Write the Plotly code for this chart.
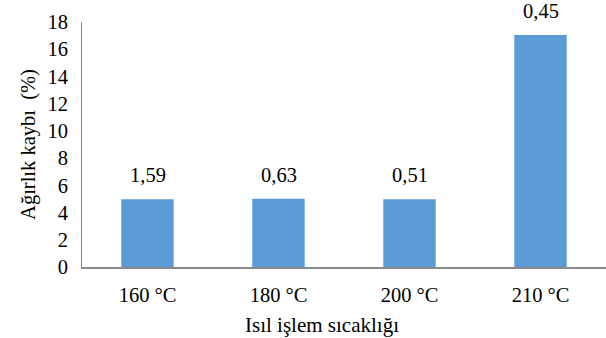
import plotly.graph_objects as go

categories = ["160 °C", "180 °C", "200 °C", "210 °C"]
values = [4.97, 5.02, 4.97, 17.05]
labels = ["1,59", "0,63", "0,51", "0,45"]
y_ticks = [0, 2, 4, 6, 8, 10, 12, 14, 16, 18]

font = "Liberation Serif"
fs = 20.5

fig = go.Figure(go.Bar(
    x=categories, y=values,
    marker=dict(color="#5B9BD5", line=dict(width=0)),
    cliponaxis=False, hoverinfo="skip",
))
for c, v, t in zip(categories, values, labels):
    fig.add_annotation(
        x=c, y=v, text=t, showarrow=False, yanchor="bottom", yshift=11,
        font=dict(family=font, size=fs, color="#000"),
    )
fig.add_annotation(
    xref="paper", yref="paper", x=0.458, y=-0.237, xanchor="center", yanchor="middle",
    text="Isıl işlem sıcaklığı", showarrow=False,
    font=dict(family=font, size=21, color="#000"),
)
fig.update_layout(
    width=606, height=338,
    margin=dict(l=82, r=0, t=22, b=71, autoexpand=False),
    paper_bgcolor="white", plot_bgcolor="white",
    bargap=0.6, showlegend=False,
    font=dict(family=font, size=fs, color="#000"),
)
fig.update_xaxes(
    showline=True, linecolor="#898989", linewidth=1.5, ticks="",
    showgrid=False, tickfont=dict(family=font, size=fs), automargin=False,
    ticklabelstandoff=9,
)
fig.update_yaxes(
    range=[0, 18], tickvals=y_ticks, showline=True, linecolor="#898989", linewidth=1,
    showgrid=False, zeroline=False, ticks="", tickfont=dict(family=font, size=fs),
    ticklabelstandoff=9, automargin=False,
    title=dict(text="Ağırlık kaybı  (%)", font=dict(family=font, size=fs), standoff=6),
)
fig.write_html(
    "out.html",
    config={"displayModeBar": False},
    post_script="document.body.style.margin='0';document.body.style.overflow='hidden';",
)
